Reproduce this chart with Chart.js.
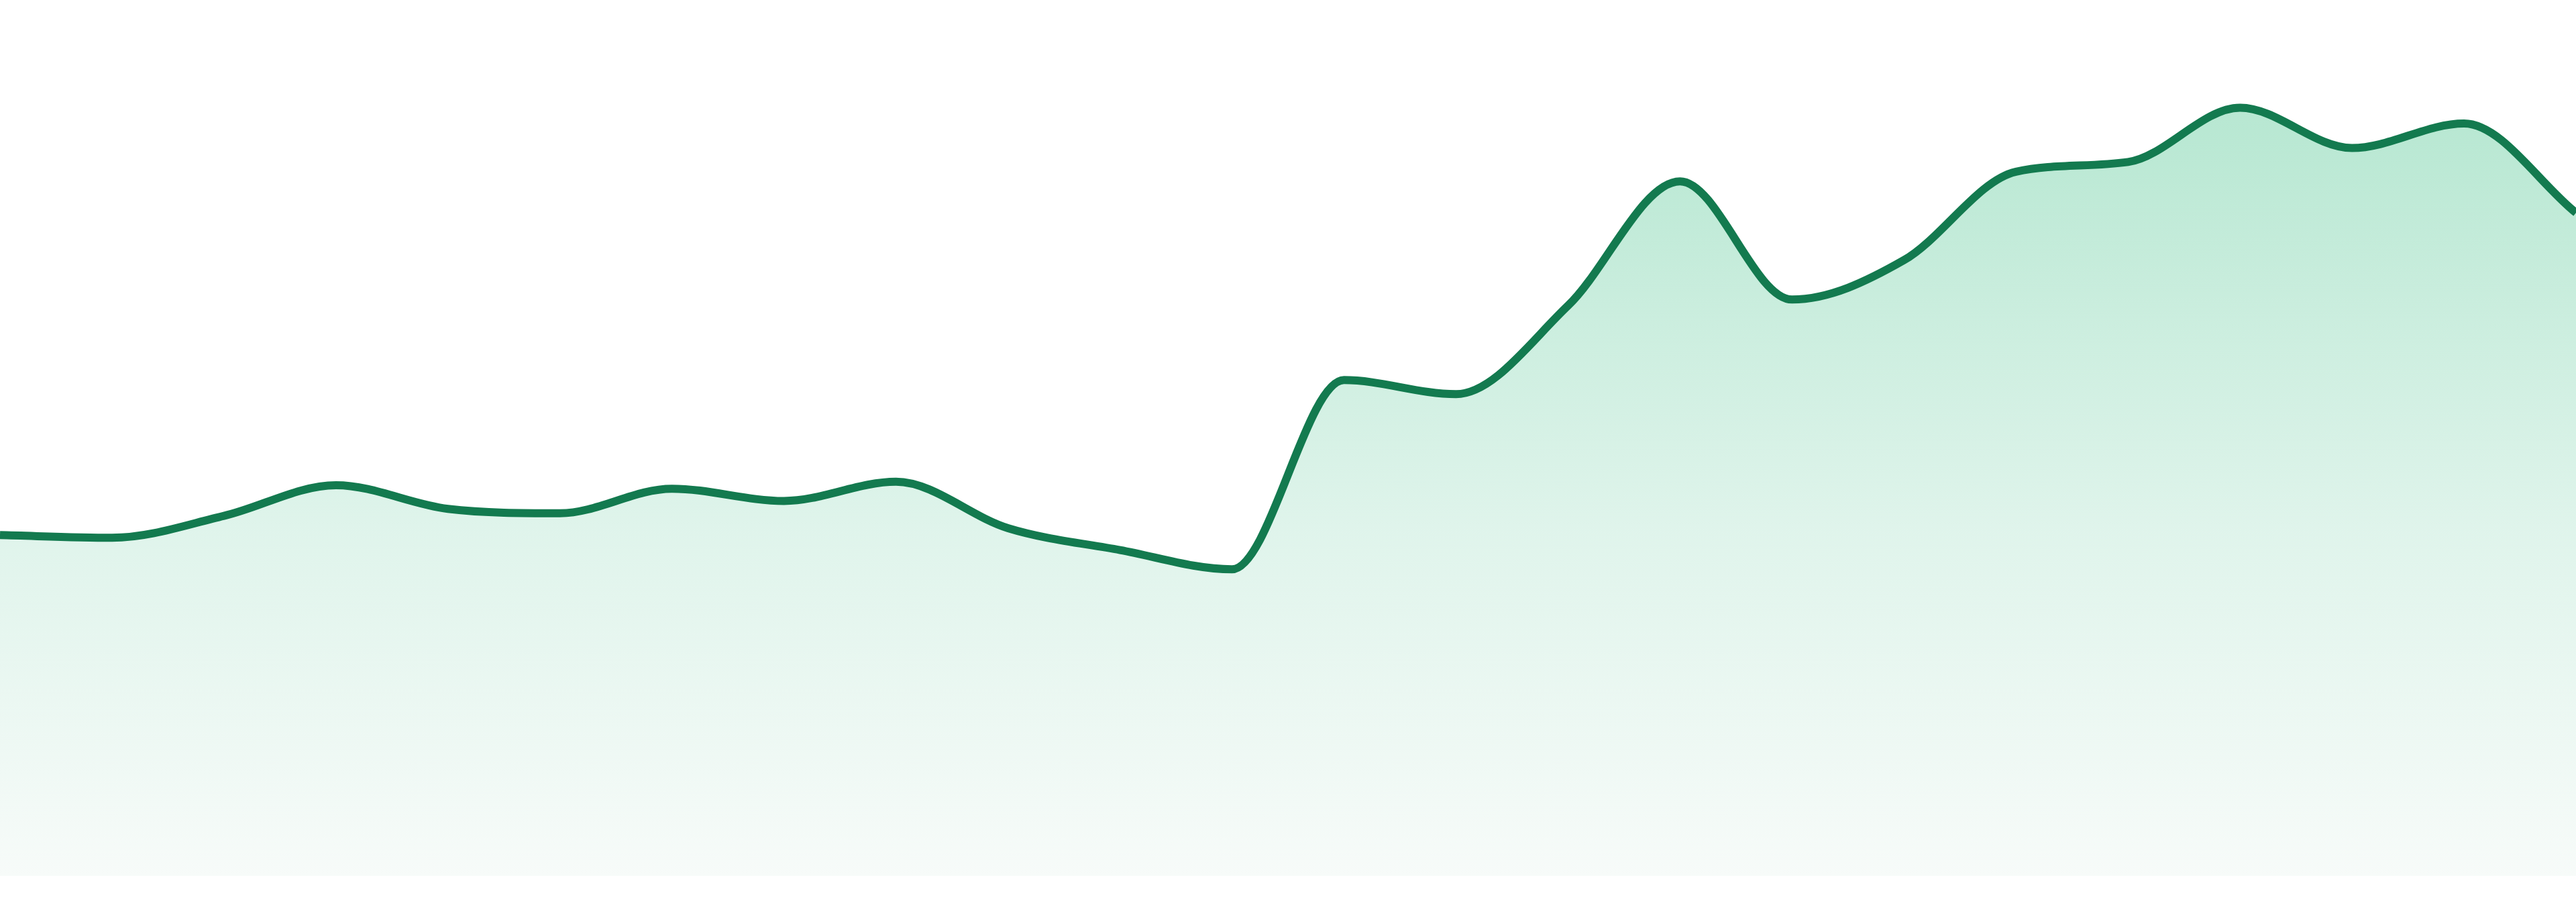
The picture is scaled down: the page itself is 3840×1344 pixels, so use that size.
<!DOCTYPE html>
<html>
<head>
<meta charset="utf-8">
<script src="https://cdn.jsdelivr.net/npm/chart.js@4.4.1/dist/chart.umd.min.js"></script>
<style>
  html, body { margin: 0; padding: 0; background: #fff; }
  .wrap { position: relative; width: 3840px; height: 1344px; }
</style>
</head>
<body>
<div class="wrap"><canvas id="area_chart"></canvas></div>
<script>
// chart data
const labels = ["1", "2", "3", "4", "5", "6", "7", "8", "9", "10", "11", "12",
	"13", "14", "15", "16", "17", "18", "19", "20", "21", "22", "23", "24"];
const values = [38.9, 38.6, 41.1, 44.6, 41.9, 41.4, 44.2, 42.8, 45.0, 39.7, 37.2, 35.0,
	56.6, 55.0, 65.1, 79.3, 65.8, 70.3, 80.4, 81.5, 87.7, 83.1, 85.9, 75.7];
const y_min = 0;
const y_max = 100;

const ctx = document.getElementById("area_chart").getContext("2d");

// gradient fill, built once the chart area is known
function areaFill(context){
	const chart = context.chart;
	const area = chart.chartArea;
	if(!area){
		return "#dcf3e8";
	}
	const g = chart.ctx.createLinearGradient(0, area.top, 0, area.bottom);
	g.addColorStop(0, "#b2e5cf");
	g.addColorStop(0.15, "#b9e8d3");
	g.addColorStop(0.6, "#dff4eb");
	g.addColorStop(1, "#f7fbf9");
	return g;
}

let my_chart = new Chart(ctx, {
	type: 'line',
	data: {
		labels: labels,
		datasets: [{
			data: values,
			fill: 'start',
			borderColor: '#137a4f',
			backgroundColor: areaFill,
			borderWidth: 12,
			pointRadius: 0,
			cubicInterpolationMode: 'monotone'
		}]
	},
	options: {
		responsive: true,
		maintainAspectRatio: false,
		animation: false,
		layout: {
			padding: { top: 0, left: 0, right: 0, bottom: 39 }
		},
		plugins: {
			legend: { display: false },
			tooltip: { enabled: false }
		},
		scales: {
			x: { display: false },
			y: { display: false, min: y_min, max: y_max }
		}
	}
});
</script>
</body>
</html>
